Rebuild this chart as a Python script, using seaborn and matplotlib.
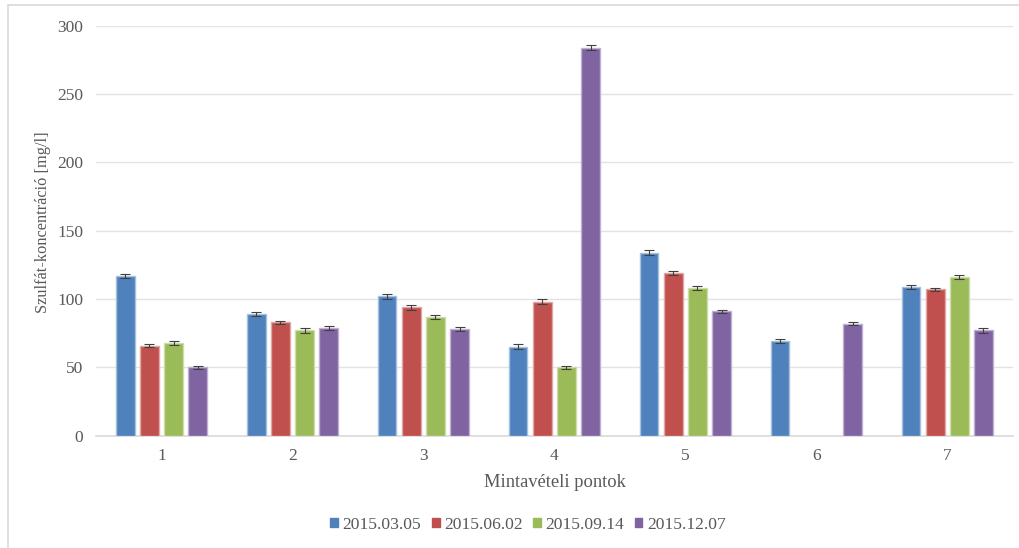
import numpy as np
import pandas as pd
import matplotlib
matplotlib.use("Agg")
import matplotlib.pyplot as plt
from matplotlib.lines import Line2D
from matplotlib.patches import Patch
from matplotlib.container import BarContainer
import seaborn as sns

# Sampling points and sampling dates
points = ["1", "2", "3", "4", "5", "6", "7"]
dates = ["2015.03.05", "2015.06.02", "2015.09.14", "2015.12.07"]

# Sulphate concentration [mg/l] per date (NaN = no sample)
conc_0305 = [117, 89, 102, 65, 134, 69, 109]
conc_0602 = [66, 83, 94, 98, 119, np.nan, 107]
conc_0914 = [68, 77, 87, 50, 108, np.nan, 116]
conc_1207 = [50, 79, 78, 284, 91, 82, 77]

# Measurement uncertainty [mg/l]
err_0305 = [1.5, 1.5, 1.8, 1.8, 1.8, 1.5, 1.5]
err_0602 = [1.2, 1.2, 1.8, 1.8, 1.2, np.nan, 1.2]
err_0914 = [1.5, 1.5, 1.5, 1.2, 1.5, np.nan, 1.5]
err_1207 = [1.0, 1.5, 1.2, 2.0, 1.2, 1.2, 1.8]

colors = ["#4F81BD", "#C0504D", "#9BBB59", "#8064A2"]
edges = ["#A7C0DE", "#DFA8A6", "#CDDDAC", "#BFB1D0"]
text_col = "#595959"

series = [conc_0305, conc_0602, conc_0914, conc_1207]
errors = [err_0305, err_0602, err_0914, err_1207]
df = pd.DataFrame({
    "pont": np.repeat([points], 4, axis=0).ravel(),
    "datum": np.repeat(dates, len(points)),
    "ertek": np.concatenate(series),
    "hiba": np.concatenate(errors),
})

sns.set_theme(style="white")
plt.rcParams["font.family"] = ["Liberation Serif", "DejaVu Serif"]

fig = plt.figure(figsize=(10.19, 5.48), dpi=100)
ax = fig.add_axes([0.0942, 0.2049, 0.8998, 0.7482])

sns.barplot(data=df, x="pont", y="ertek", hue="datum", order=points,
            hue_order=dates, palette=colors, width=0.735, errorbar=None,
            saturation=1, legend=False, ax=ax, zorder=3)

# Narrow each bar around its centre, give it a light edge, add error bars
shrink = 0.76
bar_sets = [c for c in ax.containers if isinstance(c, BarContainer)]
for i, cont in enumerate(bar_sets):
    for bar in cont.patches:
        h = bar.get_height()
        if not np.isfinite(h) or h == 0:
            continue
        w = bar.get_width()
        cx = bar.get_x() + w / 2
        j = int(round(cx))
        bar.set_width(w * shrink)
        bar.set_x(cx - w * shrink / 2)
        bar.set_edgecolor(edges[i])
        bar.set_linewidth(1.0)
        ax.errorbar(cx, h, yerr=errors[i][j], fmt="none", ecolor="#404040",
                    elinewidth=0.8, capsize=3.5, capthick=0.8, zorder=4)

ax.set_ylim(0, 300)
ax.set_xlim(-0.5, len(points) - 0.5)
ax.set_yticks([0, 50, 100, 150, 200, 250, 300])
ax.yaxis.grid(True, color="#E3E3E3", linewidth=1.0, zorder=0)
ax.set_axisbelow(True)
for s in ["top", "right", "left"]:
    ax.spines[s].set_visible(False)
ax.spines["bottom"].set_color("#D9D9D9")
ax.spines["bottom"].set_linewidth(1.2)
ax.tick_params(axis="both", length=0, labelsize=12.5, colors=text_col)
ax.tick_params(axis="y", pad=9)
ax.tick_params(axis="x", pad=9)

ax.set_xlabel("Mintavételi pontok", fontsize=13.3, color=text_col, labelpad=7)
ax.set_ylabel("Szulfát-koncentráció [mg/l]", fontsize=11.8, color=text_col,
              labelpad=5)
ax.yaxis.label.set_y(0.52)

handles = [Patch(facecolor=c, edgecolor=c) for c in colors]
fig.legend(handles, dates, loc="center", bbox_to_anchor=(0.518, 0.042),
           ncol=4, frameon=False, fontsize=12.6, handlelength=0.45,
           handleheight=0.45, handletextpad=0.25, columnspacing=0.6,
           labelcolor=text_col)

# Chart area frame (top and left edges)
fig.add_artist(Line2D([0.008, 1.0], [0.991, 0.991], transform=fig.transFigure,
                      color="#D9D9D9", linewidth=1.2))
fig.add_artist(Line2D([0.008, 0.008], [0.0, 0.991], transform=fig.transFigure,
                      color="#D9D9D9", linewidth=1.2))

fig.savefig("out.png", dpi=100, facecolor="white")
